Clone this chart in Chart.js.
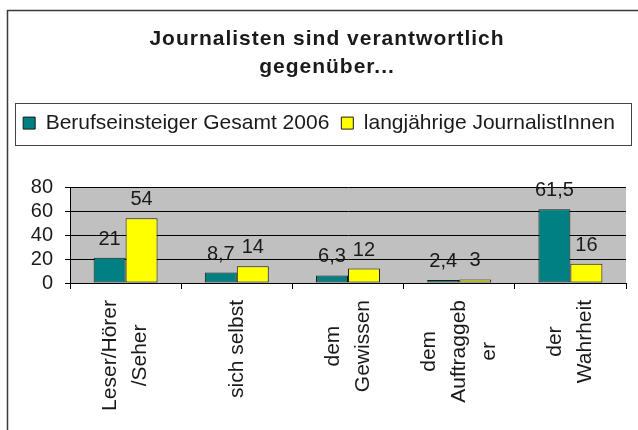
<!DOCTYPE html>
<html lang="de">
<head>
<meta charset="utf-8">
<title>Journalisten sind verantwortlich gegenüber...</title>
<script src="https://cdn.jsdelivr.net/npm/chart.js@4.4.1/dist/chart.umd.min.js"></script>
<style>
  html, body { margin: 0; padding: 0; background: #fff; }
  #wrap { position: relative; width: 638px; height: 430px; }
</style>
</head>
<body>
<div id="wrap"><canvas id="chart"></canvas></div>
<script>
// Daten
var categories = [['Leser/Hörer', '/Seher'], ['sich selbst'], ['dem', 'Gewissen'], ['dem', 'Auftraggeb', 'er'], ['der', 'Wahrheit']];
var seriesNames = ['Berufseinsteiger Gesamt 2006', 'langjährige JournalistInnen'];
var berufseinsteiger = [21, 8.7, 6.3, 2.4, 61.5];
var langjaehrige = [54, 14, 12, 3, 16];
var titleLines = ['Journalisten sind verantwortlich', 'gegenüber...'];

var FONT = "'Liberation Sans', Arial, sans-serif";
var INK = '#1a1a1a';

// Dezimalkomma wie im Original
function fmt(v) {
  return String(v).replace('.', ',');
}

// Rahmen und grauer Plotbereich
var backgroundPlugin = {
  id: 'background',
  beforeDraw: function (chart) {
    var ctx = chart.ctx, a = chart.chartArea;
    ctx.save();
    ctx.fillStyle = '#c0c0c0';
    ctx.fillRect(a.left, a.top, a.right - a.left, a.bottom - a.top);
    ctx.strokeStyle = '#3a3a3a';
    ctx.lineWidth = 1.5;
    ctx.beginPath();
    ctx.moveTo(7.5, chart.height);
    ctx.lineTo(7.5, 10.5);
    ctx.lineTo(chart.width, 10.5);
    ctx.stroke();
    ctx.restore();
  }
};

// Titel gesperrt und etwas nach rechts
var titleSpacing = {
  id: 'titleSpacing',
  afterInit: function (chart) {
    var tb = chart.titleBlock;
    if (!tb) return;
    var draw = tb.draw;
    tb.draw = function () {
      var ctx = chart.ctx;
      ctx.save();
      ctx.letterSpacing = '1px';
      ctx.translate(8, 0);
      draw.apply(tb, arguments);
      ctx.restore();
    };
  }
};

// Rahmen um die Legende
var legendBox = {
  id: 'legendBox',
  afterDraw: function (chart) {
    var hb = chart.legend && chart.legend.legendHitBoxes;
    if (!hb || !hb.length) return;
    var ctx = chart.ctx;
    var first = hb[0], last = hb[hb.length - 1];
    var x0 = Math.round(first.left - 8) + 0.5;
    var x1 = Math.round(last.left + last.width + 16) + 0.5;
    var y0 = Math.round(first.top - 10) + 0.5;
    var y1 = Math.round(first.top + first.height + 11) + 0.5;
    ctx.save();
    ctx.strokeStyle = '#444';
    ctx.lineWidth = 1;
    ctx.strokeRect(x0, y0, x1 - x0, y1 - y0);
    ctx.restore();
  }
};

// Werte über den Balken
var valueLabels = {
  id: 'valueLabels',
  afterDatasetsDraw: function (chart) {
    var ctx = chart.ctx;
    ctx.save();
    ctx.font = '20px ' + FONT;
    ctx.fillStyle = INK;
    ctx.textAlign = 'center';
    ctx.textBaseline = 'alphabetic';
    chart.data.datasets.forEach(function (ds, i) {
      chart.getDatasetMeta(i).data.forEach(function (bar, j) {
        ctx.fillText(fmt(ds.data[j]), bar.x, bar.y - 13);
      });
    });
    ctx.restore();
  }
};

// Kategorien senkrecht, Zeilen zentriert (wie Excel)
var categoryLabels = {
  id: 'categoryLabels',
  afterDraw: function (chart) {
    var xs = chart.scales.x, ctx = chart.ctx;
    var lineH = 30, top = xs.top + 6 + 11;
    ctx.save();
    ctx.font = '21px ' + FONT;
    ctx.fillStyle = INK;
    ctx.textAlign = 'center';
    ctx.textBaseline = 'middle';
    chart.data.labels.forEach(function (label, i) {
      var lines = [].concat(label);
      var x = xs.getPixelForTick(i);
      var widest = Math.max.apply(null, lines.map(function (l) { return ctx.measureText(l).width; }));
      var cy = top + widest / 2;
      lines.forEach(function (line, j) {
        ctx.save();
        ctx.translate(x + (j - (lines.length - 1) / 2) * lineH, cy);
        ctx.rotate(-Math.PI / 2);
        ctx.fillText(line, 0, 0);
        ctx.restore();
      });
    });
    ctx.restore();
  }
};

new Chart(document.getElementById('chart'), {
  type: 'bar',
  data: {
    labels: categories,
    datasets: [{
      label: seriesNames[0],
      data: berufseinsteiger,
      backgroundColor: '#008080',
      borderColor: INK,
      borderWidth: 1,
      borderSkipped: false,
      categoryPercentage: 0.575,
      barPercentage: 1
    }, {
      label: seriesNames[1],
      data: langjaehrige,
      backgroundColor: '#ffff00',
      borderColor: INK,
      borderWidth: 1,
      borderSkipped: false,
      categoryPercentage: 0.575,
      barPercentage: 1
    }]
  },
  options: {
    responsive: true,
    maintainAspectRatio: false,
    animation: false,
    layout: { padding: 0 },
    plugins: {
      title: {
        display: true,
        text: titleLines,
        color: INK,
        font: { family: FONT, size: 21, weight: 'bold', lineHeight: 1.3 },
        padding: { top: 26, bottom: 20 }
      },
      legend: {
        weight: 1800,
        labels: {
          color: INK,
          font: { family: FONT, size: 21 },
          boxWidth: 12,
          boxHeight: 12,
          padding: 12
        }
      },
      // nur Abstand zwischen Legende und Diagramm
      subtitle: {
        display: true,
        text: '',
        font: { size: 10, lineHeight: 1 },
        padding: { top: 0, bottom: 33.5 }
      },
      tooltip: { enabled: false }
    },
    scales: {
      x: {
        grid: { offset: true, drawOnChartArea: false, drawTicks: true, tickLength: 6, color: '#000' },
        border: { color: '#000' },
        ticks: { display: false },
        afterFit: function (s) { s.height = 147; }
      },
      y: {
        min: 0,
        max: 80,
        ticks: { stepSize: 20, autoSkip: false, color: INK, padding: 12, font: { family: FONT, size: 20 } },
        grid: { color: '#000', tickLength: 5 },
        border: { color: '#000' },
        afterFit: function (s) { s.width = 70; }
      },
      // leerer Rand rechts vom Plotbereich
      pad: {
        type: 'linear',
        position: 'right',
        grid: { display: false },
        border: { display: false },
        ticks: { display: false },
        afterFit: function (s) { s.width = 12; }
      }
    }
  },
  plugins: [backgroundPlugin, titleSpacing, legendBox, valueLabels, categoryLabels]
});
</script>
</body>
</html>
